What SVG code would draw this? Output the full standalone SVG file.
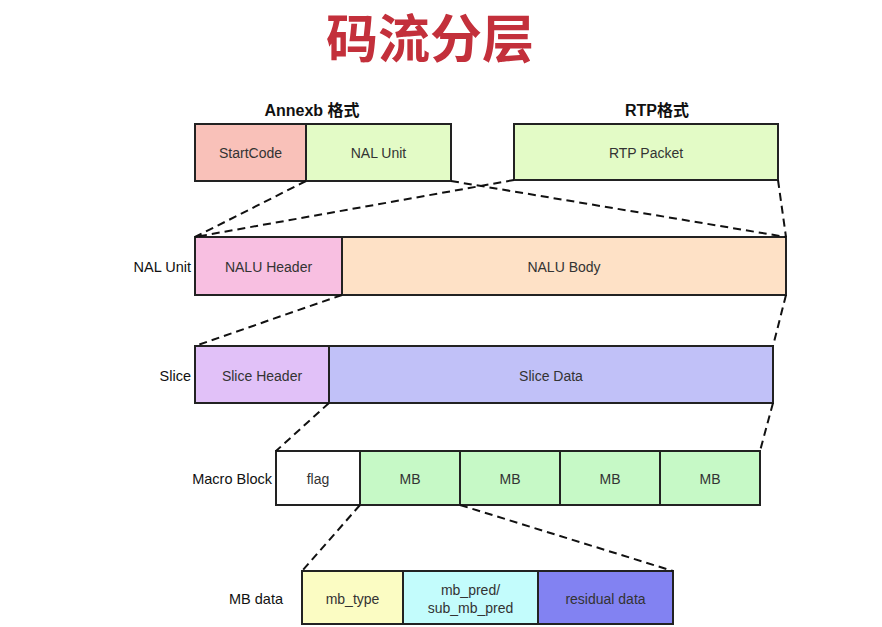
<svg xmlns="http://www.w3.org/2000/svg" width="882" height="627" viewBox="0 0 882 627">
<style>
.box{stroke:#222;stroke-width:2}
.t{font-family:"Liberation Sans","Noto Sans CJK SC",sans-serif;font-size:14px;fill:#333;text-anchor:middle;dominant-baseline:central}
.lab{font-family:"Liberation Sans","Noto Sans CJK SC",sans-serif;font-size:14.5px;fill:#111;text-anchor:end;dominant-baseline:central}
.hd{font-family:"Liberation Sans","Noto Sans CJK SC",sans-serif;font-size:16px;font-weight:bold;fill:#111;text-anchor:middle}
.dash{stroke:#111;stroke-width:2;stroke-dasharray:8 5;fill:none}
</style>
<rect width="882" height="627" fill="#fff"/>
<text x="430" y="58" font-family="'Noto Sans CJK SC',sans-serif" font-size="52" font-weight="bold" fill="#c3303b" text-anchor="middle">码流分层</text>
<text class="hd" x="312" y="116">Annexb 格式</text>
<text class="hd" x="657" y="116">RTP格式</text>
<g id="annexb">
<rect class="box" x="195" y="124" width="111" height="57" fill="#f9c1b9"/>
<text class="t" x="250.5" y="153">StartCode</text>
<rect class="box" x="306" y="124" width="145" height="57" fill="#e3fbc6"/>
<text class="t" x="378.5" y="153">NAL Unit</text>
</g>
<g id="rtp">
<rect class="box" x="514" y="124" width="264" height="56" fill="#e3fbc6"/>
<text class="t" x="646" y="153">RTP Packet</text>
</g>
<g id="nalunit">
<text class="lab" x="191" y="267">NAL Unit</text>
<rect class="box" x="195" y="237" width="147" height="58" fill="#f8bfe1"/>
<text class="t" x="268.5" y="267">NALU Header</text>
<rect class="box" x="342" y="237" width="444" height="58" fill="#fee1c6"/>
<text class="t" x="564" y="267">NALU Body</text>
</g>
<g id="slice">
<text class="lab" x="191" y="376">Slice</text>
<rect class="box" x="195" y="346" width="134" height="57" fill="#e1c1f8"/>
<text class="t" x="262" y="376">Slice Header</text>
<rect class="box" x="329" y="346" width="444" height="57" fill="#c1c1f8"/>
<text class="t" x="551" y="376">Slice Data</text>
</g>
<g id="macroblock">
<text class="lab" x="272" y="479">Macro Block</text>
<rect class="box" x="276" y="451" width="84" height="54" fill="#fff"/>
<text class="t" x="318" y="479">flag</text>
<rect class="box" x="360" y="451" width="100" height="54" fill="#c6f9c6"/>
<text class="t" x="410" y="479">MB</text>
<rect class="box" x="460" y="451" width="100" height="54" fill="#c6f9c6"/>
<text class="t" x="510" y="479">MB</text>
<rect class="box" x="560" y="451" width="100" height="54" fill="#c6f9c6"/>
<text class="t" x="610" y="479">MB</text>
<rect class="box" x="660" y="451" width="100" height="54" fill="#c6f9c6"/>
<text class="t" x="710" y="479">MB</text>
</g>
<g id="mbdata">
<text class="lab" x="283" y="599">MB data</text>
<rect class="box" x="302" y="571" width="101" height="53" fill="#fbfcc3"/>
<text class="t" x="352.5" y="599">mb_type</text>
<rect class="box" x="403" y="571" width="135" height="53" fill="#c3fcfc"/>
<text class="t" x="470.5" y="590">mb_pred/</text>
<text class="t" x="470.5" y="608">sub_mb_pred</text>
<rect class="box" x="538" y="571" width="135" height="53" fill="#8282f2"/>
<text class="t" x="605.5" y="599">residual data</text>
</g>
<g id="connectors">
<line class="dash" x1="306" y1="181" x2="195" y2="237"/>
<line class="dash" x1="451" y1="181" x2="786" y2="237"/>
<line class="dash" x1="514" y1="180" x2="195" y2="237"/>
<line class="dash" x1="778" y1="180" x2="786" y2="237"/>
<line class="dash" x1="342" y1="295" x2="195" y2="346"/>
<line class="dash" x1="786" y1="295" x2="773" y2="346"/>
<line class="dash" x1="329" y1="403" x2="276" y2="451"/>
<line class="dash" x1="773" y1="403" x2="760" y2="451"/>
<line class="dash" x1="360" y1="505" x2="302" y2="571"/>
<line class="dash" x1="460" y1="505" x2="673" y2="571"/>
</g>
</svg>
